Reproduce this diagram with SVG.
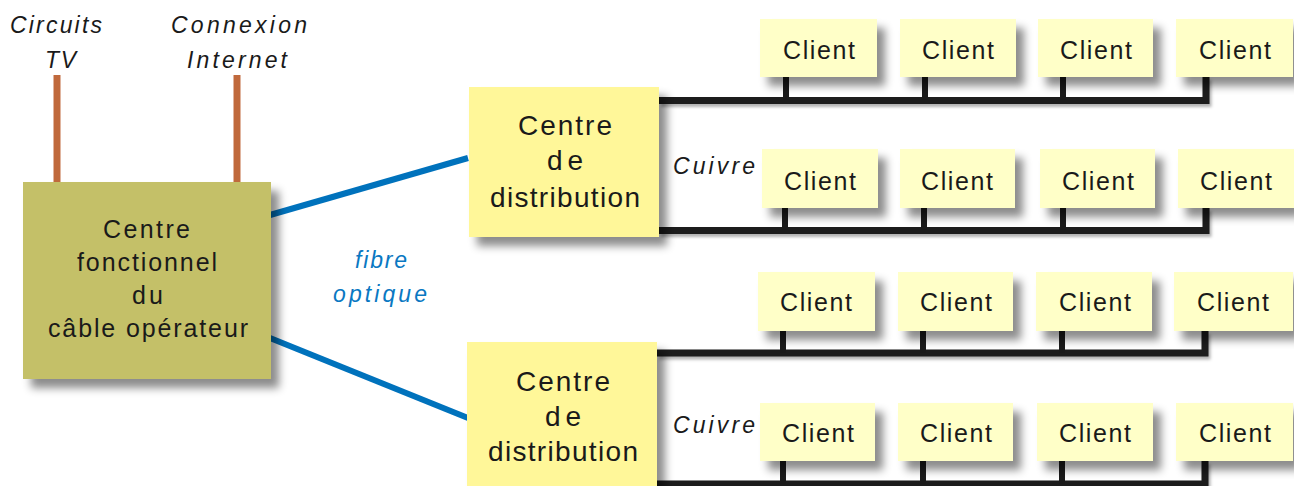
<svg xmlns="http://www.w3.org/2000/svg" width="1294" height="486" viewBox="0 0 1294 486">
  <defs>
    <filter id="shadow" x="-10%" y="-10%" width="130%" height="140%">
      <feDropShadow dx="8" dy="9" stdDeviation="4" flood-color="#000" flood-opacity="0.45"/>
    </filter>
    <filter id="lshadow" x="-5%" y="-50%" width="110%" height="300%">
      <feDropShadow dx="2" dy="3" stdDeviation="1.5" flood-color="#000" flood-opacity="0.3"/>
    </filter>
  </defs>
  <style>
    .lbl { font-family: "Liberation Sans", Arial, sans-serif; fill: #1a1a1a; }
    .ital { font-style: italic; font-size: 23px; }
    .op { fill: #c4c067; }
    .dist { fill: #fff799; }
    .client { fill: #ffffc8; }
    .ctext { font-size: 25px; text-anchor: middle; }
    .btext { text-anchor: middle; }
    .feed { stroke: #c0693c; stroke-width: 7; }
    .fibre { stroke: #0072bc; stroke-width: 6; stroke-linecap: butt; }
    .cu { stroke: #1a1a1a; stroke-width: 7; fill: none; }
    .stub { stroke: #1a1a1a; stroke-width: 6; }
    .blue { fill: #0a78c2; }
  </style>

  <rect width="1294" height="486" fill="#ffffff"/>

  <!-- connectors -->
  <g id="connectors">
    <line class="feed" x1="57" y1="75" x2="57" y2="183"/>
    <line class="feed" x1="237" y1="75" x2="237" y2="183"/>
    <line class="fibre" x1="270" y1="215" x2="468" y2="158"/>
    <line class="fibre" x1="270" y1="338" x2="468" y2="418"/>
    <g filter="url(#lshadow)">
      <polyline class="cu" points="659,100.5 1206,100.5 1206,77"/>
      <polyline class="cu" points="659,230.5 1206,230.5 1206,208"/>
      <polyline class="cu" points="657,353 1205,353 1205,331"/>
      <polyline class="cu" points="657,484 1205,484 1205,461"/>
    </g>
    <g>
      <line class="stub" x1="786" y1="77" x2="786" y2="100"/>
      <line class="stub" x1="925" y1="77" x2="925" y2="100"/>
      <line class="stub" x1="1063" y1="77" x2="1063" y2="100"/>
      <line class="stub" x1="785" y1="208" x2="785" y2="230"/>
      <line class="stub" x1="924" y1="208" x2="924" y2="230"/>
      <line class="stub" x1="1063" y1="208" x2="1063" y2="230"/>
      <line class="stub" x1="783" y1="331" x2="783" y2="353"/>
      <line class="stub" x1="923" y1="331" x2="923" y2="353"/>
      <line class="stub" x1="1062" y1="331" x2="1062" y2="353"/>
      <line class="stub" x1="783" y1="461" x2="783" y2="484"/>
      <line class="stub" x1="923" y1="461" x2="923" y2="484"/>
      <line class="stub" x1="1062" y1="461" x2="1062" y2="484"/>
    </g>
    <text class="lbl ital" x="673" y="174" textLength="82" lengthAdjust="spacing">Cuivre</text>
    <text class="lbl ital" x="673" y="433" textLength="82" lengthAdjust="spacing">Cuivre</text>
    <text class="lbl ital blue" x="355" y="268" textLength="52" lengthAdjust="spacing">fibre</text>
    <text class="lbl ital blue" x="333" y="302" textLength="94" lengthAdjust="spacing">optique</text>
  </g>

  <!-- feed labels -->
  <g id="feed-labels">
    <text class="lbl ital" x="10" y="33" textLength="92" lengthAdjust="spacing">Circuits</text>
    <text class="lbl ital" x="45" y="68" textLength="31" lengthAdjust="spacing">TV</text>
    <text class="lbl ital" x="171" y="33" textLength="136" lengthAdjust="spacing">Connexion</text>
    <text class="lbl ital" x="187" y="68" textLength="100" lengthAdjust="spacing">Internet</text>
  </g>

  <!-- head-end -->
  <g id="operateur">
    <rect class="op" x="23" y="182" width="248" height="197" filter="url(#shadow)"/>
    <g class="lbl" font-size="25">
      <text x="103" y="238" textLength="87" lengthAdjust="spacing">Centre</text>
      <text x="77" y="271" textLength="140" lengthAdjust="spacing">fonctionnel</text>
      <text x="132" y="304" textLength="31" lengthAdjust="spacing">du</text>
      <text x="48" y="337" textLength="200" lengthAdjust="spacing">câble opérateur</text>
    </g>
  </g>

  <!-- distribution centres -->
  <g id="distribution-1">
    <rect class="dist" x="469" y="87" width="190" height="150" filter="url(#shadow)"/>
    <g class="lbl" font-size="28">
      <text x="518" y="135" textLength="94" lengthAdjust="spacing">Centre</text>
      <text x="547" y="170" textLength="36" lengthAdjust="spacing">de</text>
      <text x="490" y="207" textLength="150" lengthAdjust="spacing">distribution</text>
    </g>
  </g>
  <g id="distribution-2">
    <rect class="dist" x="467" y="342" width="190" height="160" filter="url(#shadow)"/>
    <g class="lbl" font-size="28">
      <text x="516" y="391" textLength="94" lengthAdjust="spacing">Centre</text>
      <text x="545" y="426" textLength="36" lengthAdjust="spacing">de</text>
      <text x="488" y="461" textLength="150" lengthAdjust="spacing">distribution</text>
    </g>
  </g>

  <!-- clients, row 1 -->
  <g id="client-1-1"><rect class="client" x="760" y="19" width="117" height="58" filter="url(#shadow)"/><text class="lbl ctext" x="819" y="59" textLength="72" lengthAdjust="spacing">Client</text></g>
  <g id="client-1-2"><rect class="client" x="900" y="19" width="116" height="58" filter="url(#shadow)"/><text class="lbl ctext" x="958" y="59" textLength="72" lengthAdjust="spacing">Client</text></g>
  <g id="client-1-3"><rect class="client" x="1038" y="19" width="115" height="58" filter="url(#shadow)"/><text class="lbl ctext" x="1096" y="59" textLength="72" lengthAdjust="spacing">Client</text></g>
  <g id="client-1-4"><rect class="client" x="1176" y="19" width="117" height="58" filter="url(#shadow)"/><text class="lbl ctext" x="1235" y="59" textLength="72" lengthAdjust="spacing">Client</text></g>

  <!-- clients, row 2 -->
  <g id="client-2-1"><rect class="client" x="762" y="149" width="116" height="59" filter="url(#shadow)"/><text class="lbl ctext" x="820" y="190" textLength="72" lengthAdjust="spacing">Client</text></g>
  <g id="client-2-2"><rect class="client" x="900" y="149" width="115" height="59" filter="url(#shadow)"/><text class="lbl ctext" x="957" y="190" textLength="72" lengthAdjust="spacing">Client</text></g>
  <g id="client-2-3"><rect class="client" x="1040" y="149" width="115" height="59" filter="url(#shadow)"/><text class="lbl ctext" x="1098" y="190" textLength="72" lengthAdjust="spacing">Client</text></g>
  <g id="client-2-4"><rect class="client" x="1178" y="149" width="116" height="59" filter="url(#shadow)"/><text class="lbl ctext" x="1236" y="190" textLength="72" lengthAdjust="spacing">Client</text></g>

  <!-- clients, row 3 -->
  <g id="client-3-1"><rect class="client" x="758" y="272" width="117" height="59" filter="url(#shadow)"/><text class="lbl ctext" x="816" y="311" textLength="72" lengthAdjust="spacing">Client</text></g>
  <g id="client-3-2"><rect class="client" x="898" y="272" width="115" height="59" filter="url(#shadow)"/><text class="lbl ctext" x="956" y="311" textLength="72" lengthAdjust="spacing">Client</text></g>
  <g id="client-3-3"><rect class="client" x="1036" y="272" width="116" height="59" filter="url(#shadow)"/><text class="lbl ctext" x="1095" y="311" textLength="72" lengthAdjust="spacing">Client</text></g>
  <g id="client-3-4"><rect class="client" x="1174" y="272" width="119" height="59" filter="url(#shadow)"/><text class="lbl ctext" x="1233" y="311" textLength="72" lengthAdjust="spacing">Client</text></g>

  <!-- clients, row 4 -->
  <g id="client-4-1"><rect class="client" x="760" y="403" width="115" height="58" filter="url(#shadow)"/><text class="lbl ctext" x="818" y="442" textLength="72" lengthAdjust="spacing">Client</text></g>
  <g id="client-4-2"><rect class="client" x="898" y="403" width="115" height="58" filter="url(#shadow)"/><text class="lbl ctext" x="956" y="442" textLength="72" lengthAdjust="spacing">Client</text></g>
  <g id="client-4-3"><rect class="client" x="1037" y="403" width="116" height="58" filter="url(#shadow)"/><text class="lbl ctext" x="1095" y="442" textLength="72" lengthAdjust="spacing">Client</text></g>
  <g id="client-4-4"><rect class="client" x="1176" y="403" width="117" height="58" filter="url(#shadow)"/><text class="lbl ctext" x="1235" y="442" textLength="72" lengthAdjust="spacing">Client</text></g>
</svg>
